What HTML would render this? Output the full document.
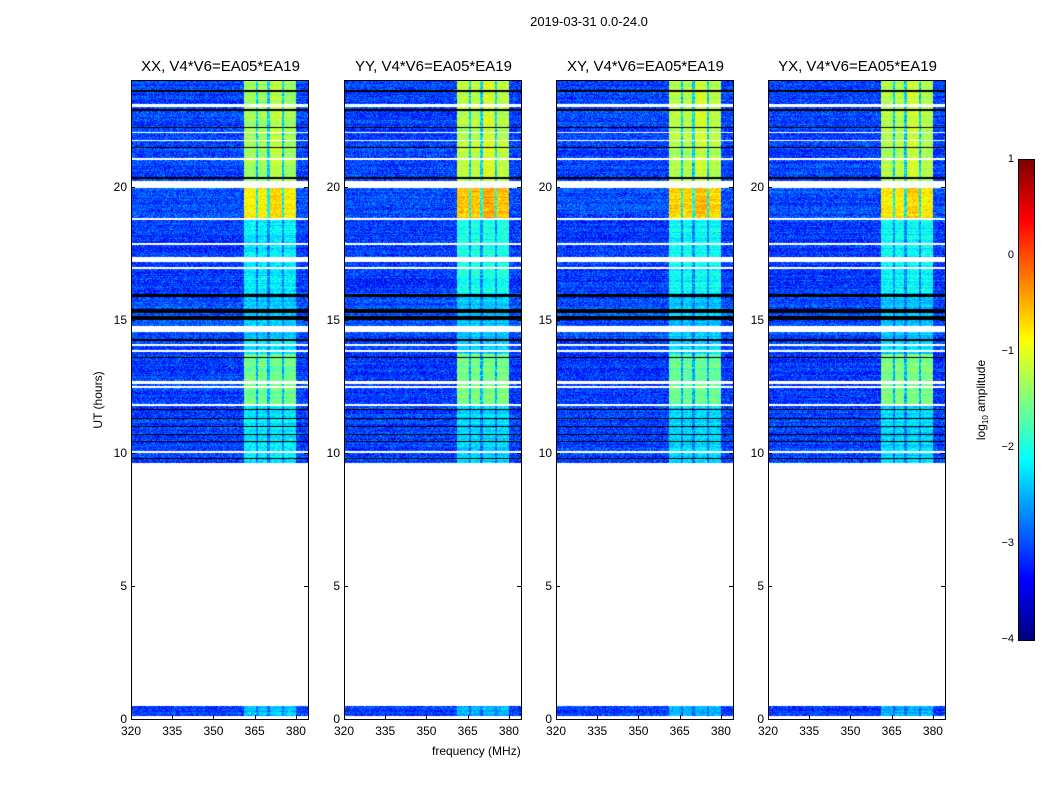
<!DOCTYPE html>
<html><head><meta charset="utf-8"><style>
body{margin:0;background:#fff;width:1050px;height:800px;position:relative;overflow:hidden;font-family:"Liberation Sans",sans-serif;color:#000}
.t{position:absolute;white-space:nowrap}
canvas{position:absolute}
.frame{position:absolute;border:1px solid #000;box-sizing:border-box}
</style></head><body>
<div class="t" style="left:0;width:1178px;top:14px;text-align:center;font-size:13px">2019-03-31 0.0-24.0</div>
<div class="t" style="left:98px;top:400px;font-size:12px;transform:translate(-50%,-50%) rotate(-90deg)">UT (hours)</div>
<div class="t" style="left:432px;top:744px;font-size:12px">frequency (MHz)</div>
<div id="root"></div>
<canvas id="cb" width="15" height="480" style="left:1019px;top:160px;border:1px solid #000;box-sizing:content-box;margin:-1px"></canvas>
<div class="t" style="left:982px;top:400px;font-size:12px;transform:translate(-50%,-50%) rotate(-90deg)">log<sub style="font-size:8px">10</sub> amplitude</div>
<div id="cbt"></div>
<script>
const panelTitles=["XX, V4*V6=EA05*EA19","YY, V4*V6=EA05*EA19","XY, V4*V6=EA05*EA19","YX, V4*V6=EA05*EA19"];
const panelLefts=[131,344,556,768];
const xTicks=[320,335,350,365,380];
const yTicks=[0,5,10,15,20];
const cbTicks=[1,0,-1,-2,-3,-4];
// time segments [startHour,endHour]
const segStart=[0.1,9.6,11.8,13.7,14.3,16.0,18.75,20.2];
const segEnd=[0.5,11.8,13.7,14.3,16.0,18.75,20.0,24.0];
const segBg=[-3.1,-3.05,-3.1,-3.05,-3.0,-3.1,-3.0,-3.05];
// band levels per polarisation per segment
const bandXX=[-2.4,-2.2,-1.6,-2.2,-2.4,-2.2,-0.85,-1.35];
const bandYY=[-2.5,-2.3,-1.5,-2.3,-2.4,-2.0,-0.6,-1.2];
const bandXY=[-2.5,-2.3,-1.6,-2.3,-2.4,-2.1,-0.7,-1.25];
const bandYX=[-2.5,-2.3,-1.5,-2.3,-2.4,-2.1,-0.8,-1.25];
const bands=[bandXX,bandYY,bandXY,bandYX];
// sub-band frequency ranges (MHz)
const subLo=[361,366.2,370.6,375.6];
const subHi=[365.5,369.6,375.1,380];
// flagged rows (hours)
const whiteLo=[23.0,22.0,21.7,21.0,19.95,18.75,17.8,17.15,16.9,14.55,14.0,13.8,12.6,12.45,11.75,10.0,9.55];
const whiteHi=[23.08,22.06,21.76,21.06,20.2,18.82,17.88,17.35,16.97,14.75,14.07,13.87,12.68,12.52,11.82,10.07,9.62];
const blackLo=[23.55,22.85,22.2,21.45,20.3,15.85,15.25,15.0,14.2,13.55,11.6,11.25,10.95,10.65,10.4,9.75];
const blackHi=[23.62,22.92,22.25,21.5,20.36,15.98,15.4,15.12,14.26,13.61,11.66,11.3,11.0,10.71,10.46,9.8];

const X0=320,X1=384.4,W=177,H=639,TOP=80;
function xs(f){return (f-X0)/(X1-X0)*W}
function ys(h){return TOP+H-(h/24)*H}
function jet(v){v=Math.max(0,Math.min(1,v));
 const r=Math.max(0,Math.min(1,1.5-Math.abs(4*v-3))),g=Math.max(0,Math.min(1,1.5-Math.abs(4*v-2))),b=Math.max(0,Math.min(1,1.5-Math.abs(4*v-1)));
 return [r*255|0,g*255|0,b*255|0]}
function norm(val){return (val+4)/5}
function hash(a,b,c){let h=(a*374761393+b*668265263+c*2147483647)|0;h=(h^(h>>>13))*1274126177|0;return ((h^(h>>>16))>>>0)/4294967295}
function inR(t,lo,hi){for(let i=0;i<lo.length;i++)if(t>=lo[i]&&t<hi[i])return true;return false}
const root=document.getElementById('root');
panelLefts.forEach((L,p)=>{
 const c=document.createElement('canvas');c.width=W;c.height=H;
 
 
 c.style.left=L+'px';c.style.top=TOP+'px';root.appendChild(c);
 const ctx=c.getContext('2d');const img=ctx.createImageData(W,H);
 for(let py=0;py<H;py++){const t=24-(py+0.5)/H*24;
  let s=-1;for(let i=0;i<segStart.length;i++)if(t>=segStart[i]&&t<segEnd[i]){s=i;break}
  const wh=inR(t,whiteLo,whiteHi),bl=inR(t,blackLo,blackHi);
  const rowN=hash(py,p,7)-0.5;
  for(let px=0;px<W;px++){const k=(py*W+px)*4;let col;
   if(s<0||wh)col=[255,255,255];else if(bl)col=[0,0,0];else{
    const f=X0+(px+0.5)/W*(X1-X0);let v=segBg[s];let inBand=false;
    for(let j=0;j<subLo.length;j++){if(f>=subLo[j]&&f<subHi[j]){v=bands[p][s]+(j==2&&s>=6?0.15:0);inBand=true;break}
     if(j<3&&f>=subHi[j]&&f<subLo[j+1]){v=segBg[s]+0.4*(bands[p][s]-segBg[s])}}
    v+=(hash(px,py,p+1)-0.5)*(inBand?0.5:0.8)+rowN*0.3;col=jet(norm(v))}
   img.data[k]=col[0];img.data[k+1]=col[1];img.data[k+2]=col[2];img.data[k+3]=255}}
 ctx.putImageData(img,0,0);
 const fr=document.createElement('div');fr.className='frame';
 
 
 fr.style.cssText+=`left:${L}px;top:${TOP}px;width:${W+1}px;height:${H+1}px`;root.appendChild(fr);
 const tt=document.createElement('div');tt.className='t';tt.textContent=panelTitles[p];
 
 
 tt.style.cssText+=`left:${L+W/2+1}px;top:58px;font-size:15px;transform:translateX(-50%)`;root.appendChild(tt);
 xTicks.forEach(v=>{const d=document.createElement('div');d.className='t';d.textContent=v;
  
  
  d.style.cssText+=`left:${L+xs(v)}px;top:724px;font-size:12px;transform:translateX(-50%)`;root.appendChild(d);
  const m=document.createElement('div');m.style.cssText=`position:absolute;left:${L+xs(v)}px;top:${TOP+H-4}px;width:1px;height:4px;background:#000`;root.appendChild(m)});
 yTicks.forEach(v=>{const d=document.createElement('div');d.className='t';d.textContent=v;
  
  
  d.style.cssText+=`right:${1050-L+4}px;top:${ys(v)-7}px;font-size:12px`;root.appendChild(d);
  const m=document.createElement('div');m.style.cssText=`position:absolute;left:${L}px;top:${ys(v)}px;width:4px;height:1px;background:#000`;root.appendChild(m);
  const m2=document.createElement('div');m2.style.cssText=`position:absolute;left:${L+W-4}px;top:${ys(v)}px;width:4px;height:1px;background:#000`;root.appendChild(m2)});
});
const cb=document.getElementById('cb').getContext('2d');
for(let y=0;y<480;y++){const c=jet(1-(y+0.5)/480);cb.fillStyle=`rgb(${c[0]},${c[1]},${c[2]})`;cb.fillRect(0,y,15,1)}
const cbt=document.getElementById('cbt');
cbTicks.forEach(v=>{const y=160+(1-v)/5*480;const d=document.createElement('div');d.className='t';
 d.textContent=v<0?'\u2212'+(-v):v;
 
 
 d.style.cssText+=`right:${1050-1014}px;top:${y-7}px;font-size:11px`;cbt.appendChild(d)});
</script>
</body></html>
